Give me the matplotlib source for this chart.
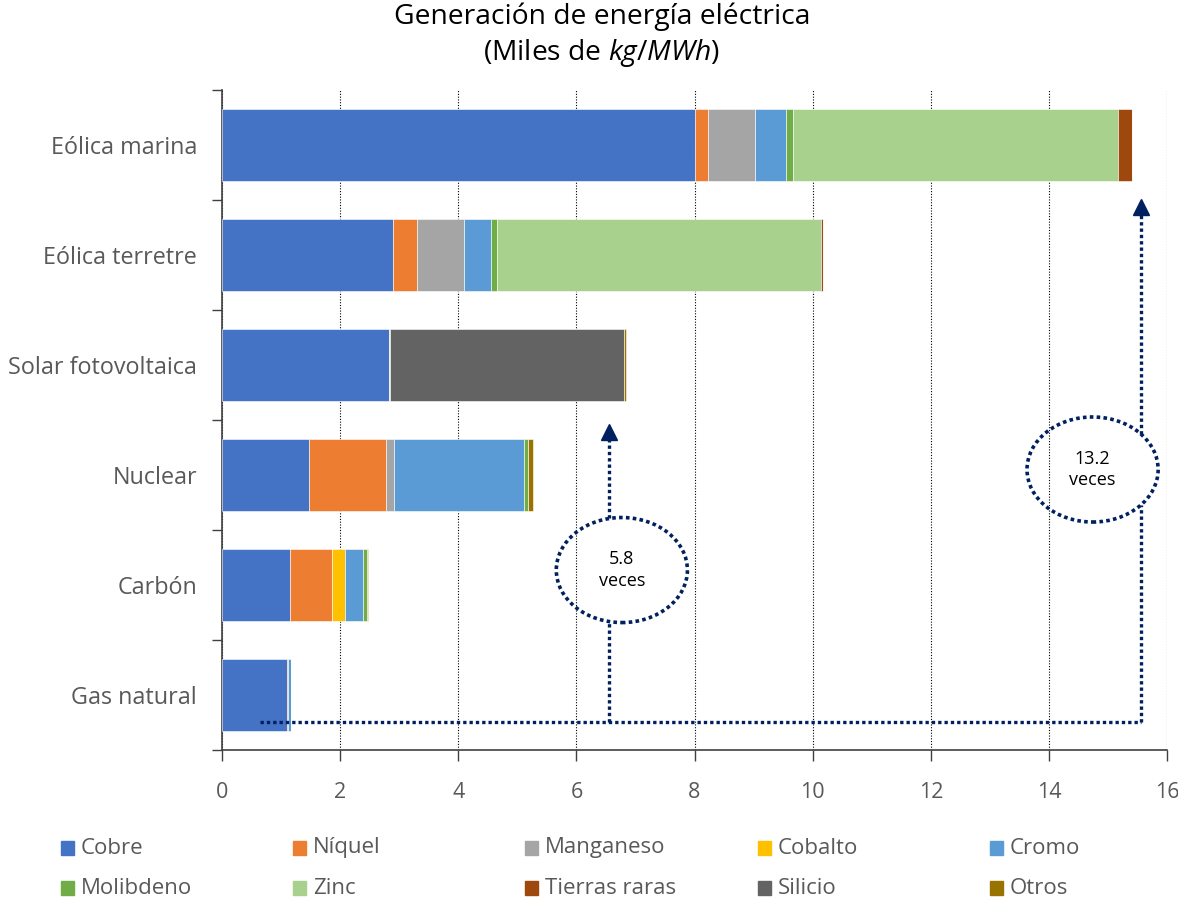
import matplotlib
matplotlib.use("Agg")
import matplotlib.pyplot as plt
from matplotlib.patches import Ellipse, Rectangle
import numpy as np

plt.rcParams['font.family'] = ['Open Sans', 'DejaVu Sans']
plt.rcParams['mathtext.fontset'] = 'custom'
plt.rcParams['mathtext.rm'] = 'Open Sans'
plt.rcParams['mathtext.it'] = 'Open Sans:italic'

categories = ["Gas natural", "Carbón", "Nuclear", "Solar fotovoltaica",
              "Eólica terretre", "Eólica marina"]
materials = ["Cobre", "Níquel", "Manganeso", "Cobalto", "Cromo",
             "Molibdeno", "Zinc", "Tierras raras", "Silicio", "Otros"]
colors = ["#4472C4", "#ED7D31", "#A5A5A5", "#FFC000", "#5B9BD5",
          "#70AD47", "#A9D18E", "#9E480E", "#636363", "#997300"]

cobre      = [1.10, 1.15, 1.47, 2.83, 2.90, 8.00]
niquel     = [0.01, 0.71, 1.30, 0.00, 0.40, 0.23]
manganeso  = [0.00, 0.00, 0.15, 0.00, 0.79, 0.80]
cobalto    = [0.00, 0.22, 0.00, 0.00, 0.00, 0.00]
cromo      = [0.06, 0.31, 2.19, 0.00, 0.46, 0.52]
molibdeno  = [0.00, 0.06, 0.07, 0.00, 0.10, 0.12]
zinc       = [0.00, 0.00, 0.00, 0.02, 5.50, 5.50]
tierras    = [0.00, 0.00, 0.00, 0.00, 0.02, 0.24]
silicio    = [0.00, 0.00, 0.00, 3.96, 0.00, 0.00]
otros      = [0.00, 0.03, 0.09, 0.03, 0.00, 0.00]
series = [cobre, niquel, manganeso, cobalto, cromo, molibdeno, zinc,
          tierras, silicio, otros]

xticks = [0, 2, 4, 6, 8, 10, 12, 14, 16]
ratio_labels = ["5.8\nveces", "13.2\nveces"]

navy = "#002060"
gray_txt = "#595959"

fig = plt.figure(figsize=(11.78, 9.09), dpi=100)
ax = fig.add_axes([222/1178, 1-750/909, (1167-222)/1178, (750-90)/909])

y = np.arange(len(categories))
left = np.zeros(len(categories))
for vals, col, name in zip(series, colors, materials):
    v = np.array(vals)
    ax.barh(y, v, left=left, height=0.66, color=col, edgecolor='white',
            linewidth=0.4, label=name, zorder=3)
    left += v

ax.set_xlim(0, 16)
ax.set_ylim(-0.5, 5.5)
ax.set_xticks(xticks)
ax.set_xticklabels([str(t) for t in xticks], fontsize=15.5, color=gray_txt)
ax.tick_params(axis='x', direction='out', length=8, width=1, pad=15,
               color='#404040')
ax.set_yticks(y)
ax.set_yticklabels(categories, fontsize=16.8, color=gray_txt)
ax.tick_params(axis='y', length=0, pad=18)
ax.set_yticks(np.arange(-0.5, 6.0, 1.0), minor=True)
ax.tick_params(axis='y', which='minor', length=7, width=1, color='#404040')
ax.grid(axis='x', color='black', linestyle=(0, (1, 1.5)), linewidth=0.8,
        zorder=1)
for s in ['top', 'right']:
    ax.spines[s].set_visible(False)
ax.spines['left'].set_color('#404040')
ax.spines['bottom'].set_color('#404040')
ax.spines['left'].set_linewidth(1.2)
ax.spines['bottom'].set_linewidth(1.2)

# annotations
dot = dict(color=navy, linewidth=2.4, linestyle=(0, (1, 0.9)), zorder=5,
           solid_capstyle='butt', dash_capstyle='butt')
y_h = -0.241
x1, x2 = 6.55, 15.56
ax.plot([0.64, x2], [y_h, y_h], **dot)
# line 1
ax.plot([x1, x1], [y_h, 0.66], **dot)
ax.plot([x1, x1], [1.61, 2.32], **dot)
ax.plot([x1], [2.39], marker='^', markersize=12, color=navy, zorder=6,
        linestyle='none')
# line 2
ax.plot([x2, x2], [y_h, 1.727], **dot)
ax.plot([x2, x2], [2.373, 4.37], **dot)
ax.plot([x2], [4.44], marker='^', markersize=12, color=navy, zorder=6,
        linestyle='none')

for (cx, cy), lab in zip([(6.77, 1.136), (14.74, 2.05)], ratio_labels):
    e = Ellipse((cx, cy), width=2.22, height=0.955, fill=False,
                edgecolor=navy, linewidth=2.6, linestyle=(0, (1, 0.9)),
                zorder=6)
    ax.add_patch(e)
    ax.text(cx, cy, lab, ha='center', va='center', fontsize=13,
            color='black', linespacing=1.25, zorder=7)

# title
fig.text(602/1178, 1-17/909, "Generación de energía eléctrica",
         ha='center', va='center', fontsize=20.3, color='black')
fig.text(602/1178, 1-53/909, r"(Miles de $kg/MWh$)",
         ha='center', va='center', fontsize=20.3, color='black')

# legend (row-major, 5 columns)
col_x = [61, 293, 525, 758, 990]
row_y = [848, 888]
for i, (name, col) in enumerate(zip(materials, colors)):
    r, c = divmod(i, 5)
    px, py = col_x[c], row_y[r]
    fig.add_artist(Rectangle((px/1178, 1-(py+7)/909), 13/1178, 14/909,
                             transform=fig.transFigure, color=col))
    fig.text((px+20)/1178, 1-py/909, name, ha='left', va='center',
             fontsize=16, color=gray_txt)

fig.savefig("out.png", dpi=100)
